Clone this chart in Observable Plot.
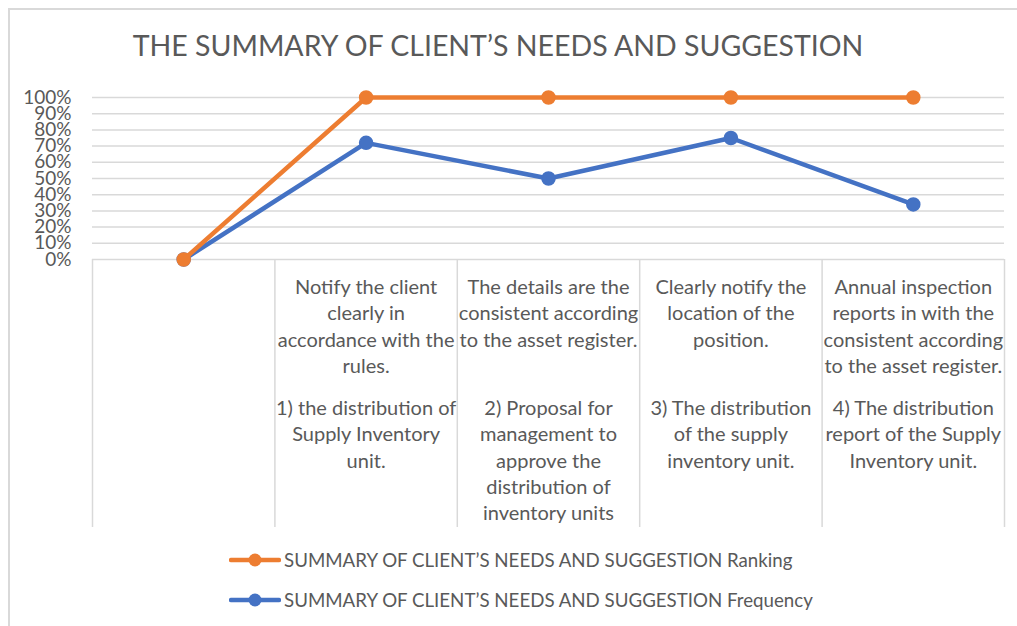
<!DOCTYPE html>
<html><head><meta charset="utf-8">
<script src="https://cdn.jsdelivr.net/npm/d3@7"></script>
<script src="https://cdn.jsdelivr.net/npm/@observablehq/plot@0.6"></script>
<style>
body{margin:0;background:#fff;}
#wrap{position:relative;width:1017px;height:626px;overflow:hidden;font-family:Lato,sans-serif;color:#595959;background:#fff;}
#frame{position:absolute;left:8px;top:8px;right:-10px;bottom:-10px;border-left:2px solid #d9d9d9;border-top:2px solid #d9d9d9;}
#title{position:absolute;left:0;width:996px;top:27px;text-align:center;font-size:28.5px;line-height:36px;white-space:nowrap;}
#chart{position:absolute;left:0;top:0;}
.leg{position:absolute;left:229px;height:30px;display:flex;align-items:center;font-size:18.7px;white-space:nowrap;}
.leg svg{margin-right:3px;}
</style></head>
<body>
<div id="wrap">
  <div id="frame"></div>
  <div id="title"></div>
  <div id="chart"></div>
  <div id="legend"></div>
</div>
<script>
const titleText = "THE SUMMARY OF CLIENT’S NEEDS AND SUGGESTION";
const level1 = [
  "",
  "Notify the client\nclearly in\naccordance with the\nrules.",
  "The details are the\nconsistent according\nto the asset register.",
  "Clearly notify the\nlocation of the\nposition.",
  "Annual inspection\nreports in with the\nconsistent according\nto the asset register."
];
const level2 = [
  "",
  "1) the distribution of\nSupply Inventory\nunit.",
  "2) Proposal for\nmanagement to\napprove the\ndistribution of\ninventory units",
  "3) The distribution\nof the supply\ninventory unit.",
  "4) The distribution\nreport of the Supply\nInventory unit."
];
const ranking = [0, 1, 1, 1, 1];
const frequency = [0, 0.72, 0.50, 0.75, 0.34];
const yTicks = [0, 0.1, 0.2, 0.3, 0.4, 0.5, 0.6, 0.7, 0.8, 0.9, 1];
const seriesNames = [
  "SUMMARY OF CLIENT’S NEEDS AND SUGGESTION Ranking",
  "SUMMARY OF CLIENT’S NEEDS AND SUGGESTION Frequency"
];
const seriesColors = ["#ED7D31", "#4472C4"];

const rows = level1.map((l, i) => ({i, l1: level1[i], l2: level2[i], ranking: ranking[i], frequency: frequency[i]}));
const boundaries = d3.range(level1.length + 1).map(k => k - 0.5);

document.getElementById("title").textContent = titleText;

const chart = Plot.plot({
  width: 1017,
  height: 530,
  marginLeft: 92,
  marginRight: 13,
  marginTop: 97,
  marginBottom: 271,
  style: {fontFamily: "Lato, sans-serif", color: "#595959", background: "transparent", overflow: "visible"},
  x: {type: "linear", domain: [-0.5, level1.length - 0.5], axis: null},
  y: {domain: [0, 1], label: null},
  marks: [
    Plot.ruleY(yTicks, {stroke: "#d9d9d9", strokeWidth: 1.5}),
    Plot.ruleX(boundaries, {x: d => d, y1: 0, y2: 0, insetBottom: -268, stroke: "#d9d9d9", strokeWidth: 1.5}),
    Plot.axisY({ticks: yTicks, tickFormat: d3.format(".0%"), tickSize: 0, tickPadding: 21, fontSize: 19, label: null}),
    Plot.line(rows, {x: "i", y: "frequency", stroke: seriesColors[1], strokeWidth: 4.5, strokeLinejoin: "round", strokeLinecap: "round"}),
    Plot.dot(rows, {x: "i", y: "frequency", r: 6.5, fill: seriesColors[1], stroke: seriesColors[1]}),
    Plot.line(rows, {x: "i", y: "ranking", stroke: seriesColors[0], strokeWidth: 4.5, strokeLinejoin: "round", strokeLinecap: "round"}),
    Plot.dot(rows, {x: "i", y: "ranking", r: 6.5, fill: seriesColors[0], stroke: seriesColors[0]}),
    Plot.text(rows, {x: "i", y: 0, text: "l1", dy: 16, lineAnchor: "top", textAnchor: "middle", fontSize: 20, lineHeight: 1.315, fill: "#595959"}),
    Plot.text(rows, {x: "i", y: 0, text: "l2", dy: 137, lineAnchor: "top", textAnchor: "middle", fontSize: 20, lineHeight: 1.315, fill: "#595959"})
  ]
});
document.getElementById("chart").appendChild(chart);

const legend = document.getElementById("legend");
const legendTops = [545, 585];
seriesNames.forEach((name, k) => {
  const div = document.createElement("div");
  div.className = "leg";
  div.style.top = legendTops[k] + "px";
  div.innerHTML = `<svg width="52" height="20"><line x1="2" x2="50" y1="10" y2="10" stroke="${seriesColors[k]}" stroke-width="4.5" stroke-linecap="round"/><circle cx="26" cy="10" r="6.5" fill="${seriesColors[k]}"/></svg><span></span>`;
  div.querySelector("span").textContent = name;
  legend.appendChild(div);
});
</script>
</body></html>
